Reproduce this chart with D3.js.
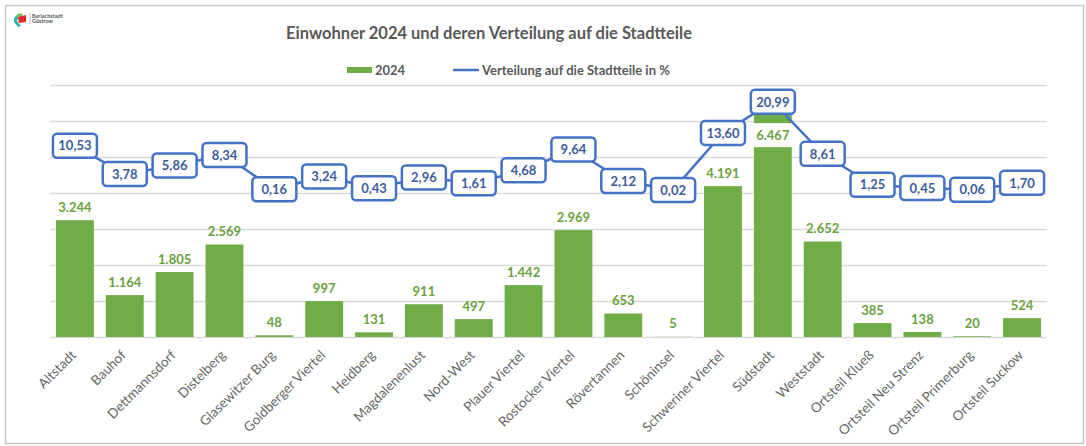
<!DOCTYPE html>
<html>
<head>
<meta charset="utf-8">
<script src="https://cdnjs.cloudflare.com/ajax/libs/d3/7.8.5/d3.min.js"></script>
<style>
  body { margin: 0; background: #fff; }
  text { font-family: Lato, "Open Sans", sans-serif; }
</style>
</head>
<body>
<div id="chart"></div>
<script>
const districts = ['Altstadt', 'Bauhof', 'Dettmannsdorf', 'Distelberg', 'Glasewitzer Burg',
  'Goldberger Viertel', 'Heidberg', 'Magdalenenlust', 'Nord-West', 'Plauer Viertel',
  'Rostocker Viertel', 'Rövertannen', 'Schöninsel', 'Schweriner Viertel', 'Südstadt',
  'Weststadt', 'Ortsteil Klueß', 'Ortsteil Neu Strenz', 'Ortsteil Primerburg', 'Ortsteil Suckow'];
const residents = [3244, 1164, 1805, 2569, 48, 997, 131, 911, 497, 1442,
  2969, 653, 5, 4191, 6467, 2652, 385, 138, 20, 524];
const shares = [10.53, 3.78, 5.86, 8.34, 0.16, 3.24, 0.43, 2.96, 1.61, 4.68,
  9.64, 2.12, 0.02, 13.60, 20.99, 8.61, 1.25, 0.45, 0.06, 1.70];
const gridTicks = [0, 1000, 2000, 3000, 4000, 5000, 6000, 7000];

const width = 1086;
const height = 446;
const plotLeft = 50;
const plotRight = 1047;
const plotTop = 85;
const plotBottom = 337;

const green = '#70ad47';
const blue = '#4472c4';

const svg = d3.select('#chart').append('svg')
  .attr('width', width)
  .attr('height', height);

// frame
svg.append('rect')
  .attr('x', 5.5).attr('y', 5.5)
  .attr('width', 1078).attr('height', 438)
  .attr('fill', 'none')
  .attr('stroke', '#c9c9c9')
  .attr('stroke-width', 1.5);

// logo
const logo = svg.append('g').attr('transform', 'translate(12,12)');
logo.append('path').attr('d', 'M7,1 L2,6 L2,10 L6,15 L9,14 L5,9 L7,5 Z').attr('fill', '#2bb5b0');
logo.append('path').attr('d', 'M4,4 L9,1 L11,3 L7,6 Z').attr('fill', '#7cc243');
logo.append('path').attr('d', 'M6,5 L14,3 L14,10 L7,11 Z').attr('fill', '#e3262b');
logo.append('line').attr('x1', 18).attr('x2', 18).attr('y1', 1).attr('y2', 12)
  .attr('stroke', '#999').attr('stroke-width', 0.6);
logo.append('text').attr('x', 20).attr('y', 5.5).attr('font-size', 5.5)
  .attr('font-weight', 'bold').attr('fill', '#555').text('Barlachstadt');
logo.append('text').attr('x', 20).attr('y', 11).attr('font-size', 5.5)
  .attr('font-weight', 'bold').attr('fill', '#555').text('Güstrow');

// title
svg.append('text')
  .attr('x', 489).attr('y', 39)
  .attr('text-anchor', 'middle')
  .attr('font-size', 16.5)
  .attr('font-weight', 'bold')
  .attr('fill', '#595959')
  .text('Einwohner 2024 und deren Verteilung auf die Stadtteile');

// legend
const legend = svg.append('g');
legend.append('rect').attr('x', 347).attr('y', 67).attr('width', 25).attr('height', 6).attr('fill', green);
legend.append('text').attr('x', 375).attr('y', 75).attr('font-size', 13)
  .attr('font-weight', 'bold').attr('fill', '#595959').text('2024');
legend.append('line').attr('x1', 453).attr('x2', 479).attr('y1', 70).attr('y2', 70)
  .attr('stroke', blue).attr('stroke-width', 2.5);
legend.append('text').attr('x', 482).attr('y', 75).attr('font-size', 13)
  .attr('font-weight', 'bold').attr('fill', '#595959').text('Verteilung auf die Stadtteile in %');

// scales
const x = d3.scaleBand()
  .domain(districts)
  .range([plotLeft, plotRight])
  .paddingInner(0.24)
  .paddingOuter(0.12);

const y = d3.scaleLinear().domain([0, 7000]).range([plotBottom, plotTop]);
const y2 = d3.scaleLinear().domain([-35, 25]).range([plotBottom, plotTop]);

// gridlines
svg.append('g')
  .selectAll('line')
  .data(gridTicks)
  .enter()
  .append('line')
  .attr('x1', plotLeft)
  .attr('x2', plotRight)
  .attr('y1', (d) => Math.round(y(d)) + 0.5)
  .attr('y2', (d) => Math.round(y(d)) + 0.5)
  .attr('stroke', '#d9d9d9')
  .attr('stroke-width', 1.3);

// bars
svg.append('g')
  .selectAll('rect')
  .data(residents)
  .enter()
  .append('rect')
  .attr('x', (d, i) => x(districts[i]))
  .attr('width', x.bandwidth())
  .attr('y', (d) => y(d))
  .attr('height', (d) => plotBottom - y(d))
  .attr('fill', green);

// bar labels (white background, visible on Südstadt)
const fmt = d3.formatLocale({ decimal: ',', thousands: '.', grouping: [3], currency: ['', '€'] });
const intFmt = fmt.format(',d');
const pctFmt = fmt.format('.2f');

const barLabels = svg.append('g')
  .selectAll('g')
  .data(residents)
  .enter()
  .append('g')
  .attr('transform', (d, i) => {
    let cx = x(districts[i]) + x.bandwidth() / 2;
    let cy = y(d) - 13;
    if (d > 6000) { cy = y(d) + 31; }
    return 'translate(' + cx + ',' + cy + ')';
  });
barLabels.filter((d) => d > 6000)
  .append('rect')
  .attr('x', -24).attr('y', -12).attr('width', 48).attr('height', 24)
  .attr('fill', '#fff');
barLabels.append('text')
  .attr('text-anchor', 'middle')
  .attr('dy', '0.35em')
  .attr('font-size', 13)
  .attr('font-weight', 'bold')
  .attr('fill', '#6aa040')
  .text((d) => intFmt(d));

// share line
const line = d3.line()
  .x((d, i) => x(districts[i]) + x.bandwidth() / 2)
  .y((d) => y2(d));

svg.append('path')
  .datum(shares)
  .attr('d', line)
  .attr('fill', 'none')
  .attr('stroke', blue)
  .attr('stroke-width', 2.5);

const boxes = svg.append('g')
  .selectAll('g')
  .data(shares)
  .enter()
  .append('g')
  .attr('transform', (d, i) => 'translate(' + (x(districts[i]) + x.bandwidth() / 2) + ',' + y2(d) + ')');
boxes.append('rect')
  .attr('x', -22).attr('y', -12)
  .attr('width', 44).attr('height', 24)
  .attr('rx', 4).attr('ry', 4)
  .attr('fill', '#fff')
  .attr('stroke', blue)
  .attr('stroke-width', 2.5);
boxes.append('text')
  .attr('text-anchor', 'middle')
  .attr('dy', '0.36em')
  .attr('font-size', 13)
  .attr('font-weight', 'bold')
  .attr('fill', '#3c5c9c')
  .text((d) => pctFmt(d));

// x axis labels
const xAxis = d3.axisBottom(x).tickSize(0).tickPadding(0);
const axisG = svg.append('g')
  .attr('transform', 'translate(0,' + plotBottom + ')')
  .call(xAxis);
axisG.select('.domain').remove();
axisG.selectAll('text')
  .attr('font-family', 'Lato, "Open Sans", sans-serif')
  .attr('font-size', 13.5)
  .attr('fill', '#666666')
  .attr('text-anchor', 'end')
  .attr('dy', null)
  .attr('y', 0)
  .attr('transform', 'translate(2,19) rotate(-45)');
</script>
</body>
</html>
